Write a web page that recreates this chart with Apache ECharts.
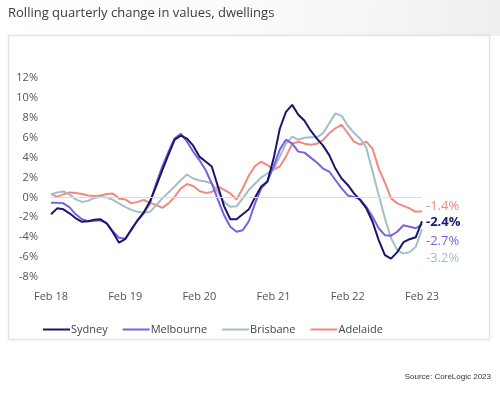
<!DOCTYPE html>
<html>
<head>
<meta charset="utf-8">
<script src="https://cdn.jsdelivr.net/npm/echarts@6/dist/echarts.min.js"></script>
<style>
html,body{margin:0;padding:0;background:#fff;}
#chart{width:500px;height:393px;}
</style>
</head>
<body>
<div id="chart"></div>
<script>
var monthNames = ['Jan','Feb','Mar','Apr','May','Jun','Jul','Aug','Sep','Oct','Nov','Dec'];
var categories = [];
(function(){
  for (var y = 2018; y <= 2023; y++) {
    for (var m = 0; m < 12; m++) {
      if (y === 2018 && m < 1) continue;
      if (y === 2023 && m > 1) continue;
      categories.push(monthNames[m] + ' ' + String(y).slice(2));
    }
  }
})();

var sydney = [-1.7,-1.1,-1.2,-1.6,-2.1,-2.45,-2.4,-2.25,-2.2,-2.6,-3.5,-4.55,
  -4.2,-3.2,-2.3,-1.5,-0.4,1.1,2.75,4.3,5.8,6.2,5.9,5.2,
  4.1,3.6,3.1,1.1,-0.9,-2.2,-2.2,-1.7,-1.2,0.0,1.1,1.6,
  3.9,6.9,8.6,9.3,8.3,7.7,6.7,5.9,5.2,4.25,2.9,1.9,
  1.25,0.4,-0.27,-1.1,-2.45,-4.3,-5.8,-6.15,-5.5,-4.5,-4.2,-4.0,
  -2.4];
var melbourne = [-0.55,-0.55,-0.6,-1.0,-1.7,-2.2,-2.4,-2.35,-2.3,-2.6,-3.4,-4.05,
  -4.15,-3.3,-2.3,-1.6,-0.6,1.4,3.1,4.6,5.95,6.4,5.6,4.6,
  3.75,2.75,1.4,-0.25,-1.8,-2.95,-3.45,-3.3,-2.4,-0.6,0.9,1.6,
  3.1,4.8,5.8,5.4,4.6,4.5,4.0,3.5,2.9,2.6,1.75,0.9,
  0.2,0.05,-0.2,-0.95,-1.95,-3.1,-3.8,-3.85,-3.45,-2.8,-2.95,-3.1,
  -2.7];
var brisbane = [0.3,0.5,0.6,0.3,-0.2,-0.45,-0.35,-0.05,0.05,0.0,-0.25,-0.6,
  -0.95,-1.25,-1.45,-1.55,-1.45,-0.8,-0.1,0.5,1.1,1.75,2.3,1.9,
  1.7,1.6,1.4,0.55,-0.45,-0.95,-0.9,-0.1,0.75,1.4,2.0,2.4,
  2.8,4.1,5.4,6.1,5.8,6.0,6.05,6.05,6.45,7.45,8.45,8.2,
  7.2,6.5,5.9,5.0,2.6,0.25,-2.1,-4.1,-5.3,-5.65,-5.5,-4.95,
  -3.2];
var adelaide = [0.35,0.05,0.3,0.5,0.45,0.35,0.2,0.15,0.2,0.35,0.4,-0.1,
  -0.2,-0.6,-0.45,-0.25,-0.55,-0.75,-1.05,-0.6,0.05,0.9,1.35,1.15,
  0.65,0.45,0.55,1.1,0.75,0.4,-0.2,0.9,2.2,3.15,3.6,3.25,
  2.8,3.1,4.1,5.4,5.6,5.4,5.3,5.4,5.75,6.45,6.95,7.3,
  6.45,5.6,5.3,5.6,4.9,2.9,1.5,-0.1,-0.6,-0.85,-1.1,-1.45,
  -1.4];

var seriesNames = ['Sydney','Melbourne','Brisbane','Adelaide'];
var yTicks = [-8,-6,-4,-2,0,2,4,6,8,10,12];

var colors = {Sydney:'#17176b', Melbourne:'#7d5fe0', Brisbane:'#a3bec6', Adelaide:'#f2887f'};
var FONT = '"Open Sans", sans-serif';

function mk(name, data, offY, bold) {
  return {
    name: name, type: 'line', data: data, symbol: 'none', smooth: false,
    lineStyle: {width: 2, color: colors[name]},
    itemStyle: {color: colors[name]},
    endLabel: {
      show: true, distance: 4, offset: [0, offY],
      formatter: function(p){ return p.value.toFixed(1) + '%'; },
      color: colors[name], fontSize: 13, fontWeight: bold ? 'bold' : 'normal', fontFamily: FONT
    },
    emphasis: {disabled: true}
  };
}

var adel = mk('Adelaide', adelaide, -5, false);
adel.markLine = {
  silent: true, symbol: 'none', animation: false,
  label: {show: false},
  lineStyle: {color: '#dedede', width: 1, type: 'solid'},
  data: [{yAxis: 0}]
};

var chart = echarts.init(document.getElementById('chart'), null, {renderer: 'canvas'});
chart.setOption({
  animation: false,
  backgroundColor: '#fff',
  graphic: [
    {type: 'rect', silent: true, z: -10, shape: {x: 0, y: 0, width: 500, height: 36},
     style: {fill: new echarts.graphic.LinearGradient(0, 0, 1, 1, [{offset: 0, color: '#ffffff'}, {offset: 0.5, color: '#fbfbfb'}, {offset: 1, color: '#efefef'}])}},
    {type: 'rect', silent: true, z: -9, shape: {x: 8.5, y: 35.5, width: 481, height: 304},
     style: {fill: '#fff', stroke: '#e2e2e2', lineWidth: 1, shadowBlur: 3, shadowColor: 'rgba(0,0,0,0.08)'}},
    {type: 'text', left: 8, top: 7, style: {text: 'Rolling quarterly change in values, dwellings', fill: '#3b3b3b', font: '13px ' + FONT}},
    {type: 'text', right: 9, top: 373, style: {text: 'Source: CoreLogic 2023', fill: '#333', font: '8px "Liberation Sans", Arial, sans-serif'}}
  ],
  grid: {left: 51, right: 78, top: 78, bottom: 116, containLabel: false},
  legend: {
    data: seriesNames, left: 38, top: 319, itemWidth: 27, itemHeight: 14, itemGap: 15,
    textStyle: {fontSize: 11, color: '#444', fontFamily: FONT, padding: [0, 0, 0, -4]},
    icon: 'path://M0,6 L27,6 L27,8 L0,8 Z'
  },
  xAxis: {
    type: 'category', data: categories, boundaryGap: false,
    axisLine: {show: false}, axisTick: {show: false}, splitLine: {show: false},
    axisLabel: {interval: 11, color: '#555', fontSize: 11, margin: 14, fontFamily: FONT}
  },
  yAxis: {
    type: 'value', min: yTicks[0], max: yTicks[yTicks.length-1], interval: 2,
    axisLine: {show: false}, axisTick: {show: false}, splitLine: {show: false},
    axisLabel: {color: '#555', fontSize: 11, margin: 13, fontFamily: FONT, formatter: '{value}%'}
  },
  series: [
    adel,
    mk('Brisbane', brisbane, 29, false),
    mk('Melbourne', melbourne, 17, false),
    mk('Sydney', sydney, 1, true)
  ]
});
</script>
</body>
</html>
